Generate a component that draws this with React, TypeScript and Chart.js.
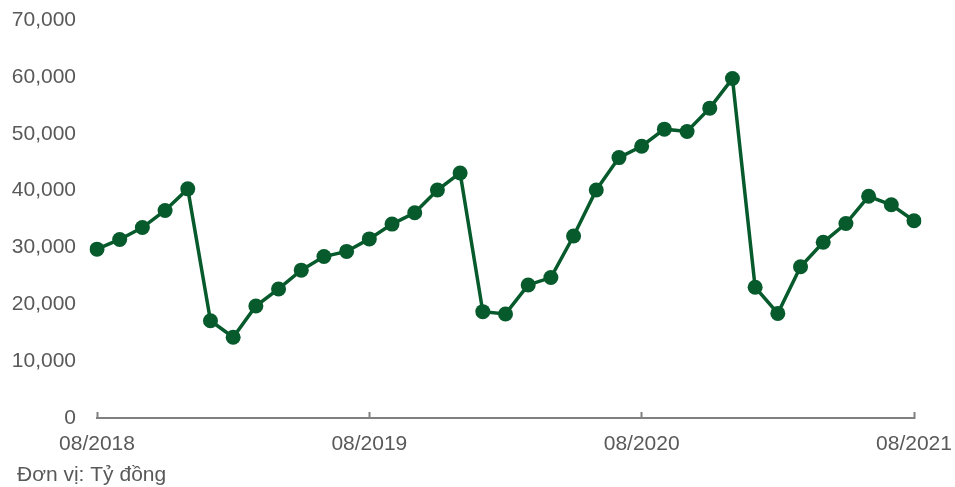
import React, { useEffect, useRef } from "react";
import { Chart, registerables } from "chart.js";

Chart.register(...registerables);

const months: string[] = [
  "08/2018", "09/2018", "10/2018", "11/2018", "12/2018",
  "01/2019", "02/2019", "03/2019", "04/2019", "05/2019", "06/2019", "07/2019",
  "08/2019", "09/2019", "10/2019", "11/2019", "12/2019",
  "01/2020", "02/2020", "03/2020", "04/2020", "05/2020", "06/2020", "07/2020",
  "08/2020", "09/2020", "10/2020", "11/2020", "12/2020",
  "01/2021", "02/2021", "03/2021", "04/2021", "05/2021", "06/2021", "07/2021",
  "08/2021",
];

const values: number[] = [
  29700, 31400, 33500, 36500, 40300,
  17100, 14200, 19700, 22700, 26000, 28400, 29300,
  31500, 34100, 36100, 40100, 43100,
  18700, 18300, 23400, 24700, 32000, 40100, 45800,
  47800, 50800, 50400, 54500, 59700,
  23000, 18400, 26600, 30900, 34200, 39000, 37500,
  34700,
];

const shownTicks: string[] = ["08/2018", "08/2019", "08/2020", "08/2021"];
const unitNote = "Đơn vị: Tỷ đồng";

const GREEN = "#075a2c";
const TEXT = "#595959";
const AXIS = "#808080";
const FONT = "'Liberation Sans', Arial, sans-serif";

const footerPlugin = {
  id: "footerNote",
  afterDraw(chart: any) {
    const ctx = chart.ctx;
    ctx.save();
    ctx.fillStyle = TEXT;
    ctx.font = `21px ${FONT}`;
    ctx.textAlign = "left";
    ctx.textBaseline = "middle";
    ctx.fillText(unitNote, 17, 475);
    ctx.restore();
  },
};

export default function App() {
  const ref = useRef<HTMLCanvasElement | null>(null);

  useEffect(() => {
    if (!ref.current) return;
    const chart = new Chart(ref.current, {
      type: "line",
      data: {
        labels: months,
        datasets: [
          {
            data: values,
            borderColor: GREEN,
            backgroundColor: GREEN,
            borderWidth: 3.5,
            pointRadius: 7.5,
            pointHoverRadius: 7.5,
            pointBackgroundColor: GREEN,
            pointBorderWidth: 0,
            tension: 0,
            fill: false,
          },
        ],
      },
      options: {
        animation: false,
        responsive: false,
        maintainAspectRatio: false,
        layout: { padding: { left: 0, right: 41, top: 20, bottom: 29.8 } },
        plugins: {
          legend: { display: false },
          tooltip: { enabled: false },
          title: { display: false },
        },
        scales: {
          x: {
            type: "category",
            offset: false,
            grid: {
              display: true,
              drawOnChartArea: false,
              drawTicks: true,
              tickLength: -6,
              tickWidth: 2,
              tickColor: (ctx: any) =>
                shownTicks.includes(months[ctx.index]) ? AXIS : "rgba(0,0,0,0)",
            },
            border: { display: true, color: AXIS, width: 2 },
            afterFit: (scale: any) => {
              scale.height = 39.2;
              scale.paddingLeft = 0;
              scale.paddingRight = 0;
            },
            ticks: {
              autoSkip: false,
              maxRotation: 0,
              minRotation: 0,
              padding: 20,
              color: TEXT,
              font: { family: FONT, size: 21 },
              callback: (_v: any, i: number) =>
                shownTicks.includes(months[i]) ? months[i] : "",
            },
          },
          y: {
            min: 0,
            max: 70000,
            grid: { display: false, drawTicks: false },
            border: { display: false },
            afterFit: (scale: any) => {
              scale.width = 97;
              scale.paddingTop = 0;
              scale.paddingBottom = 0;
            },
            ticks: {
              stepSize: 10000,
              padding: 21,
              color: TEXT,
              font: { family: FONT, size: 21 },
              callback: (v: any) => Number(v).toLocaleString("en-US"),
            },
          },
        },
      },
      plugins: [footerPlugin],
    });
    return () => chart.destroy();
  }, []);

  return (
    <div style={{ position: "fixed", left: 0, top: 0, width: 955, height: 487, background: "#fff" }}>
      <canvas ref={ref} width={955} height={487} style={{ width: 955, height: 487 }} />
    </div>
  );
}
